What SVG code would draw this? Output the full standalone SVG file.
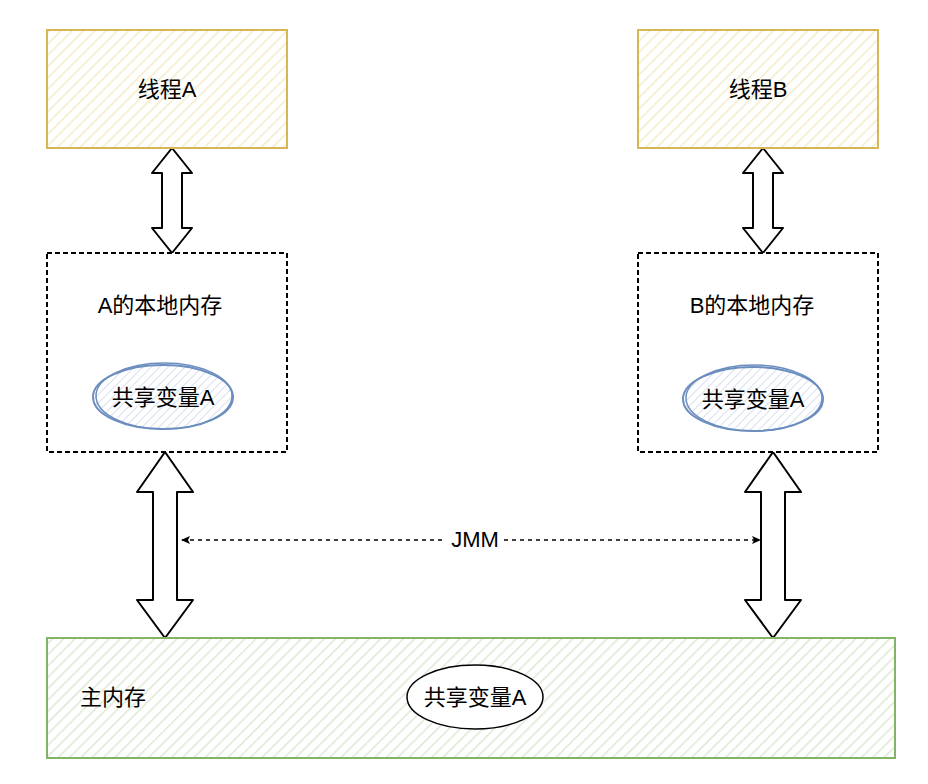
<svg xmlns="http://www.w3.org/2000/svg" width="928" height="784" viewBox="0 0 928 784">
<defs>
<pattern id="hy" width="8" height="8" patternUnits="userSpaceOnUse" patternTransform="rotate(45)"><rect width="8" height="8" fill="#fff"/><line x1="0" y1="0" x2="0" y2="8" stroke="#f3ecc8" stroke-width="3"/></pattern>
<pattern id="hg" width="8" height="8" patternUnits="userSpaceOnUse" patternTransform="rotate(45)"><rect width="8" height="8" fill="#fff"/><line x1="0" y1="0" x2="0" y2="8" stroke="#dbe9d2" stroke-width="3"/></pattern>
<pattern id="hb" width="6" height="6" patternUnits="userSpaceOnUse" patternTransform="rotate(45)"><rect width="6" height="6" fill="#fff"/><line x1="0" y1="0" x2="0" y2="6" stroke="#d7e0ef" stroke-width="2"/></pattern>
<marker id="ah" markerWidth="10" markerHeight="10" refX="8" refY="5" orient="auto-start-reverse" markerUnits="userSpaceOnUse"><path d="M0,1 L9,5 L0,9 L2,5 Z" fill="#000"/></marker>
<style>
text{font-family:"Liberation Sans","Noto Sans CJK SC",sans-serif;font-size:22px;fill:#000}
.dbl{fill:#fff;stroke:#000;stroke-width:2;stroke-linejoin:round}
</style>
</defs>
<g id="connectors">
<path class="dbl" d="M172,148 L192,173 L182,173 L182,228 L192,228 L172,253 L152,228 L162,228 L162,173 L152,173 Z"/>
<path class="dbl" d="M763,148 L783,173 L773,173 L773,228 L783,228 L763,253 L743,228 L753,228 L753,173 L743,173 Z"/>
<path class="dbl" d="M165,452 L193,492 L177,492 L177,600 L193,600 L165,638 L137,600 L153,600 L153,492 L137,492 Z"/>
<path class="dbl" d="M773,452 L801,492 L785,492 L785,600 L801,600 L773,638 L745,600 L761,600 L761,492 L745,492 Z"/>
<line x1="182" y1="540" x2="446" y2="540" stroke="#000" stroke-width="1.5" stroke-dasharray="4 4" marker-start="url(#ah)"/>
<line x1="504" y1="540" x2="760" y2="540" stroke="#000" stroke-width="1.5" stroke-dasharray="4 4" marker-end="url(#ah)"/>
<text x="475" y="547" text-anchor="middle" font-size="20">JMM</text>
</g>
<g id="threadA"><rect x="47" y="30" width="240" height="118" fill="url(#hy)" stroke="#d6b656" stroke-width="2"/><text x="167" y="97" text-anchor="middle">线程A</text></g>
<g id="threadB"><rect x="638" y="30" width="240" height="118" fill="url(#hy)" stroke="#d6b656" stroke-width="2"/><text x="758" y="97" text-anchor="middle">线程B</text></g>
<g id="localA"><rect x="47" y="253" width="240" height="199" fill="#fff" stroke="#000" stroke-width="2" stroke-dasharray="5 3"/><text x="160" y="313" text-anchor="middle">A的本地内存</text></g>
<g id="localB"><rect x="638" y="253" width="240" height="199" fill="#fff" stroke="#000" stroke-width="2" stroke-dasharray="5 3"/><text x="752" y="313" text-anchor="middle">B的本地内存</text></g>
<g id="varA"><ellipse cx="163" cy="397" rx="70" ry="32" fill="url(#hb)" stroke="#6c8ebf" stroke-width="2"/><ellipse cx="164" cy="396" rx="68" ry="33" fill="none" stroke="#6c8ebf" stroke-width="1.5"/><text x="163" y="405" text-anchor="middle">共享变量A</text></g>
<g id="varB"><ellipse cx="753" cy="399" rx="70" ry="32" fill="url(#hb)" stroke="#6c8ebf" stroke-width="2"/><ellipse cx="754" cy="398" rx="68" ry="33" fill="none" stroke="#6c8ebf" stroke-width="1.5"/><text x="753" y="407" text-anchor="middle">共享变量A</text></g>
<g id="main"><rect x="47" y="638" width="848" height="120" fill="url(#hg)" stroke="#82b366" stroke-width="2"/><text x="80" y="705">主内存</text></g>
<g id="varMain"><ellipse cx="475" cy="697" rx="68" ry="32" fill="#fff" stroke="#000" stroke-width="1.5"/><text x="475" y="705" text-anchor="middle">共享变量A</text></g>
</svg>
